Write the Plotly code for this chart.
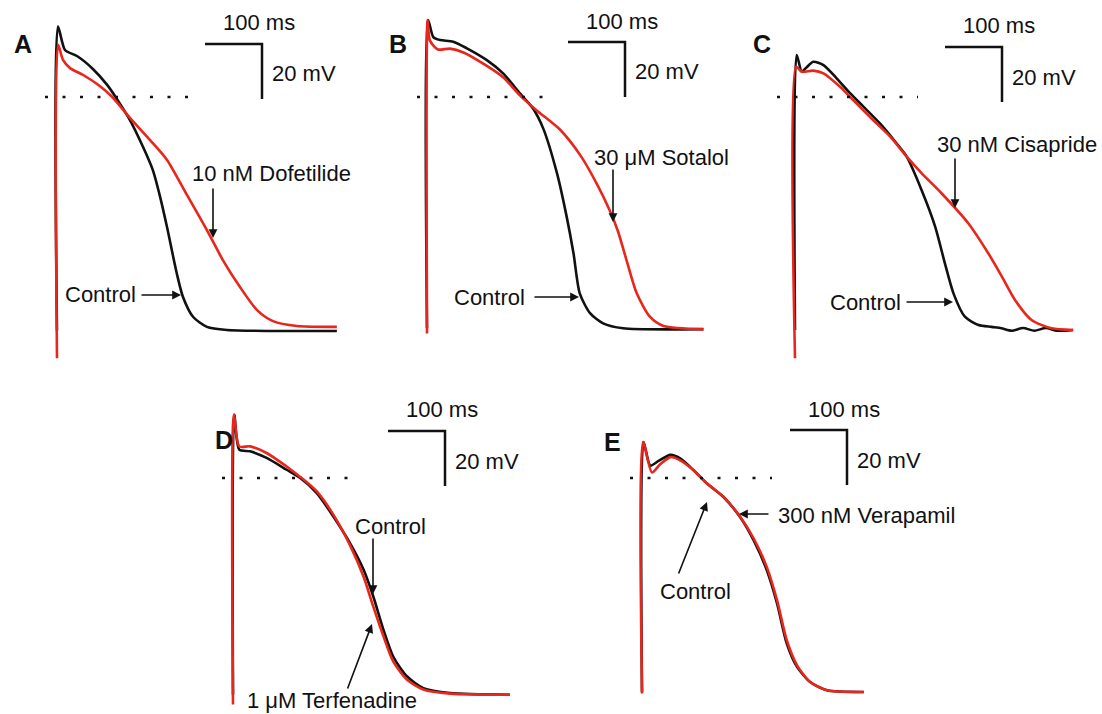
import plotly.graph_objects as go

W, H = 1102, 714
MS_PER_PX = 100 / 57
MV_PER_PX = 20 / 55
BLACK = "#111111"
RED = "#e8261c"
FONT = "Arial, Liberation Sans, sans-serif"

# ---------------- data (time in ms, membrane potential in mV) ----------------
a_ctrl_t = [0, 1.8, 14, 35, 63, 88, 105, 128, 151, 168, 181, 193, 210, 221, 239, 263, 298, 491]
a_ctrl_v = [-85, 25.6, 17.1, 14.9, 10.2, 4.4, -0.7, -8.4, -18.2, -26.5, -36.4, -47.3, -64, -72.7, -80, -83.6, -84.7, -85.1]
a_drug_t = [0, 2, 10.5, 23, 46, 75, 97, 128, 163, 193, 225, 263, 291, 321, 351, 379, 421, 491]
a_drug_v = [-95, 19, 13.5, 10.5, 8, 4, 0, -7.6, -15.6, -22.9, -34.5, -48.4, -59.3, -69.1, -77.5, -81.5, -83.3, -83.6]

b_ctrl_t = [0, 2, 11, 23, 46, 70, 105, 134, 163, 186, 204, 228, 245, 257, 268, 286, 309, 344, 485]
b_ctrl_v = [-84, 28, 21.8, 20.7, 20.1, 17.7, 13.4, 8.5, 1.3, -4.2, -11.5, -27.7, -43.5, -56.8, -71.4, -78.6, -82.3, -84.1, -84.4]
b_drug_t = [0, 1, 5, 19, 40, 64, 105, 134, 163, 192, 234, 270, 300, 320, 335, 350, 368, 391, 415, 485]
b_drug_v = [-86, 28, 20.6, 17.3, 17.6, 16.2, 11.3, 7.1, 0.6, -4.8, -12, -21.5, -32.4, -41, -48.8, -59.3, -71.4, -79.9, -83.3, -84.5]

c_ctrl_t = [0, 3, 11.8, 19, 32, 50, 73, 97, 120, 149, 178, 196, 222, 246, 263, 278, 298, 322, 345, 362, 380, 400, 420, 440, 460, 488]
c_ctrl_v = [-84.7, 15.3, 9.2, 10.5, 12.8, 11.6, 6.8, 1.3, -3.5, -9.6, -16.8, -21.7, -33.8, -47.2, -60.5, -71.4, -79.9, -82.9, -83.6, -84.1, -85, -84, -85, -84, -85, -84.7]
c_drug_t = [0, 2, 11.8, 32, 50, 79, 102, 137, 167, 196, 222, 257, 304, 339, 363, 386, 415, 450, 488]
c_drug_v = [-95, 11, 9.2, 9.6, 8.6, 3.7, -1.1, -8.4, -14.4, -21.7, -27.7, -35, -45.9, -56.8, -65.3, -73.8, -81.1, -84.1, -84.7]

d_ctrl_t = [0, 2.3, 11, 30, 59, 94, 118, 147, 176, 205, 229, 246, 264, 281, 305, 334, 381, 486]
d_ctrl_v = [-78.8, 23, 10.3, 9.7, 7.3, 3, 0, -5.5, -14, -23.6, -33.3, -43, -55.2, -64.9, -72.1, -76.4, -78.2, -78.8]
d_drug_t = [0, 1.5, 11, 30, 59, 94, 118, 147, 176, 205, 229, 246, 264, 281, 305, 334, 381, 486]
d_drug_v = [-82.4, 23, 11.5, 11.5, 9.1, 4.2, 0.4, -4.9, -13.3, -24.3, -35.8, -46.7, -57.6, -66.7, -73.3, -76.9, -78.4, -78.8]

e_ctrl_t = [0, 2.8, 14.6, 29, 50, 67, 90.5, 114, 143, 172, 196, 219, 237, 254, 272, 295, 324.5, 389]
e_ctrl_v = [-77.8, 13.1, 4.5, 6.2, 8.4, 7.1, 2.8, -2, -6.9, -14.2, -22.7, -33.6, -45.7, -60.2, -68.7, -74.2, -77.2, -77.8]
e_drug_t = [0, 1.8, 17.5, 32, 50, 67, 90.5, 114, 143, 172, 196, 219, 237, 254, 272, 295, 324.5, 389]
e_drug_v = [-78.4, 13.1, 2, 5, 7.6, 6.4, 2.8, -2, -6.9, -14, -22, -32.4, -44.5, -59, -68.1, -74.2, -77.2, -77.8]

panel_letters = ["A", "B", "C", "D", "E"]
drug_labels = ["10 nM Dofetilide", "30 \u03bcM Sotalol", "30 nM Cisapride",
               "1 \u03bcM Terfenadine", "300 nM Verapamil"]
control_label = "Control"
scale_ms = 100
scale_mv = 20
scale_ms_label = "100 ms"
scale_mv_label = "20 mV"

ctrl_t = [a_ctrl_t, b_ctrl_t, c_ctrl_t, d_ctrl_t, e_ctrl_t]
ctrl_v = [a_ctrl_v, b_ctrl_v, c_ctrl_v, d_ctrl_v, e_ctrl_v]
drug_t = [a_drug_t, b_drug_t, c_drug_t, d_drug_t, e_drug_t]
drug_v = [a_drug_v, b_drug_v, c_drug_v, d_drug_v, e_drug_v]

# ---------------- layout (pixel positions) ----------------
origins = [(57, 97), (427, 97), (795, 97), (233, 478), (642, 478)]   # upstroke / 0 mV
scale_corner = [(262, 44), (625, 42), (1002, 47), (445, 431), (847, 430)]
dot_extent = [(45, 190), (417, 557), (777, 918), (222, 362), (630, 772)]
letter_pos = [(23, 44), (398, 44), (762, 44), (224, 440), (612, 442)]
FS = 22

fig = go.Figure()
layout = dict(width=W, height=H, margin=dict(l=0, r=0, t=0, b=0),
              paper_bgcolor="white", plot_bgcolor="rgba(0,0,0,0)",
              showlegend=False, shapes=[], annotations=[])

def px(x):
    return x / W

def py(y):
    return 1 - y / H

for i in range(5):
    sfx = "" if i == 0 else str(i + 1)
    x0, y0 = origins[i]
    layout["xaxis" + sfx] = dict(domain=[0, 1], range=[-x0 * MS_PER_PX, (W - x0) * MS_PER_PX],
                                 visible=False, fixedrange=True, anchor="y" + sfx)
    layout["yaxis" + sfx] = dict(domain=[0, 1], range=[-(H - y0) * MV_PER_PX, y0 * MV_PER_PX],
                                 visible=False, fixedrange=True, anchor="x" + sfx)
    fig.add_trace(go.Scatter(x=ctrl_t[i], y=ctrl_v[i], mode="lines",
                             line=dict(color=BLACK, width=2.6, shape="spline", smoothing=0.7),
                             xaxis="x" + sfx, yaxis="y" + sfx, name="Control"))
    fig.add_trace(go.Scatter(x=drug_t[i], y=drug_v[i], mode="lines",
                             line=dict(color=RED, width=2.6, shape="spline", smoothing=0.7),
                             xaxis="x" + sfx, yaxis="y" + sfx, name=drug_labels[i]))
    # dotted 0 mV reference line
    d0, d1 = dot_extent[i]
    layout["shapes"].append(dict(type="line", xref="x" + sfx, yref="y" + sfx,
                                 x0=(d0 - x0) * MS_PER_PX, x1=(d1 - x0) * MS_PER_PX, y0=0, y1=0,
                                 line=dict(color=BLACK, width=2.5, dash="3px,14.5px")))
    # scale bars
    cx, cy = scale_corner[i]
    tc = (cx - x0) * MS_PER_PX
    vc = (y0 - cy) * MV_PER_PX
    layout["shapes"].append(dict(type="path", xref="x" + sfx, yref="y" + sfx,
                                 path=f"M {tc - scale_ms} {vc} L {tc} {vc} L {tc} {vc - scale_mv}",
                                 line=dict(color=BLACK, width=2.5)))
    layout["annotations"].append(dict(text=scale_ms_label, xref="paper", yref="paper",
                                      x=px(cx - 3), y=py(cy - 21), xanchor="center", yanchor="middle",
                                      showarrow=False, font=dict(size=FS, color=BLACK, family=FONT)))
    layout["annotations"].append(dict(text=scale_mv_label, xref="paper", yref="paper",
                                      x=px(cx + 8), y=py(cy + 30), xanchor="left", yanchor="middle",
                                      showarrow=False, font=dict(size=FS, color=BLACK, family=FONT)))
    lx, ly = letter_pos[i]
    layout["annotations"].append(dict(text="<b>" + panel_letters[i] + "</b>", xref="paper", yref="paper",
                                      x=px(lx), y=py(ly), xanchor="center", yanchor="middle",
                                      showarrow=False, font=dict(size=25, color=BLACK, family=FONT)))

# label texts (text, x, y)
labels = [
    (drug_labels[0], 271, 173), (control_label, 100, 294),
    (drug_labels[1], 661, 157), (control_label, 489, 297),
    (drug_labels[2], 1017, 145), (control_label, 865, 302),
    (control_label, 390, 526), (drug_labels[3], 332, 700),
    (drug_labels[4], 866, 515), (control_label, 695, 591),
]
for txt, x, y in labels:
    layout["annotations"].append(dict(text=txt, xref="paper", yref="paper", x=px(x), y=py(y),
                                      xanchor="center", yanchor="middle", showarrow=False,
                                      font=dict(size=FS, color=BLACK, family=FONT)))

# arrows: (tail_x, tail_y, tip_x, tip_y)
arrows = [
    (213, 187, 213, 238), (140, 295, 181, 295),
    (613, 168, 613, 222), (533, 297, 579, 297),
    (955, 157, 955, 208), (905, 302, 953, 302),
    (373, 537, 373, 594), (347, 690, 372, 624),
    (770, 514, 739, 514), (678, 575, 707, 502),
]
for tx, ty, hx, hy in arrows:
    layout["annotations"].append(dict(text="", xref="paper", yref="paper", x=px(hx), y=py(hy),
                                      ax=tx - hx, ay=ty - hy, axref="pixel", ayref="pixel",
                                      showarrow=True, arrowhead=2, arrowsize=1.1, arrowwidth=1.6,
                                      arrowcolor=BLACK, standoff=0, startstandoff=0))

fig.update_layout(**layout)
fig.write_html("out.html", config={"displayModeBar": False},
               post_script="document.body.style.margin='0px';")
